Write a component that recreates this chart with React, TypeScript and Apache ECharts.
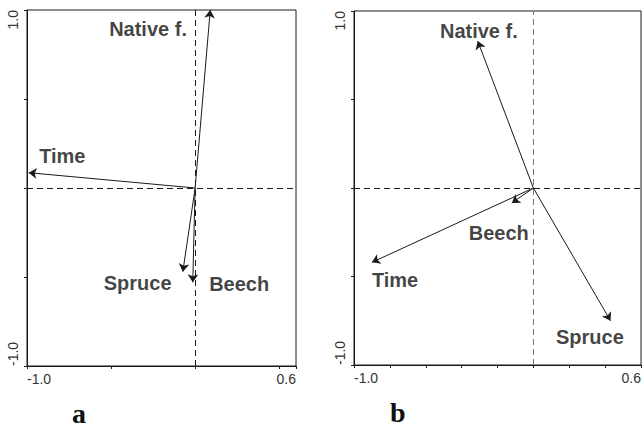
import React, { useEffect, useRef } from "react";
import * as echarts from "echarts";

// Variable names (same order in both panels)
const varNames = ["Native f.", "Time", "Spruce", "Beech"];

// Panel a: arrow tips (axis 1, axis 2)
const aX = [0.09, -0.99, -0.073, -0.014];
const aY = [1.0, 0.086, -0.47, -0.53];
// Panel a: label anchor points (data units)
const aLabelX = [-0.28, -0.79, -0.342, 0.262];
const aLabelY = [0.893, 0.18, -0.534, -0.539];

// Panel b: arrow tips
const bX = [-0.31, -0.9, 0.43, -0.12];
const bY = [0.83, -0.42, -0.75, -0.085];
// Panel b: label anchor points
const bLabelX = [-0.304, -0.771, 0.315, -0.193];
const bLabelY = [0.887, -0.52, -0.842, -0.254];

// Axis ranges and tick steps
const xRange = [-1.0, 0.6];
const yRange = [-1.0, 1.0];
const xStepA = 0.5;
const xStepB = 0.2;
const yStep = 0.5;
const panelLetters = ["a", "b"];

const INK = "#1a1a1a";

function fmtX(v: number) {
  if (Math.abs(v - xRange[0]) < 1e-9) return xRange[0].toFixed(1);
  if (Math.abs(v - xRange[1]) < 1e-9) return xRange[1].toFixed(1);
  return "";
}
function fmtY(v: number) {
  if (Math.abs(v - yRange[0]) < 1e-9) return yRange[0].toFixed(1);
  if (Math.abs(v - yRange[1]) < 1e-9) return yRange[1].toFixed(1);
  return "";
}

function makeX(gridIndex: number, step: number) {
  return {
    type: "value",
    gridIndex,
    min: xRange[0],
    max: xRange[1],
    interval: step,
    splitLine: { show: false },
    axisLine: { show: true, onZero: false, lineStyle: { color: INK, width: 1 } },
    axisTick: { show: true, inside: false, length: 3, lineStyle: { color: INK } },
    axisLabel: {
      show: true,
      formatter: fmtX,
      showMinLabel: true,
      showMaxLabel: true,
      alignMinLabel: "left",
      alignMaxLabel: "right",
      margin: 6,
      color: "#333",
      fontFamily: "'Liberation Sans', Arial, sans-serif",
      fontSize: 14,
    },
  };
}

function makeY(gridIndex: number) {
  return {
    type: "value",
    gridIndex,
    min: yRange[0],
    max: yRange[1],
    interval: yStep,
    splitLine: { show: false },
    axisLine: { show: true, onZero: false, lineStyle: { color: INK, width: 1 } },
    axisTick: { show: true, inside: false, length: 3, lineStyle: { color: INK } },
    axisLabel: {
      show: true,
      formatter: fmtY,
      rotate: 90,
      showMinLabel: true,
      showMaxLabel: true,
      alignMinLabel: "left",
      alignMaxLabel: "right",
      margin: 7,
      color: "#333",
      fontFamily: "'Liberation Sans', Arial, sans-serif",
      fontSize: 14,
    },
  };
}

function crossSeries(idx: number, vColor: string) {
  return {
    type: "lines",
    coordinateSystem: "cartesian2d",
    xAxisIndex: idx,
    yAxisIndex: idx,
    clip: false,
    silent: true,
    symbol: ["none", "none"],
    lineStyle: { color: INK, width: 1, type: [6, 4], opacity: 1 },
    data: [
      { coords: [[xRange[0], 0], [xRange[1], 0]] },
      { coords: [[0, yRange[0]], [0, yRange[1]]], lineStyle: { color: vColor } },
    ],
  };
}

function arrowSeries(idx: number, xs: number[], ys: number[]) {
  return {
    type: "lines",
    coordinateSystem: "cartesian2d",
    xAxisIndex: idx,
    yAxisIndex: idx,
    clip: false,
    silent: true,
    symbol: ["none", "arrow"],
    symbolSize: [5, 8],
    lineStyle: { color: INK, width: 1, opacity: 1 },
    itemStyle: { color: INK },
    data: xs.map((x, i) => ({ name: varNames[i], coords: [[0, 0], [x, ys[i]]] })),
  };
}

function labelSeries(idx: number, xs: number[], ys: number[]) {
  return {
    type: "scatter",
    xAxisIndex: idx,
    yAxisIndex: idx,
    clip: false,
    silent: true,
    symbolSize: 2,
    itemStyle: { color: "rgba(0,0,0,0)" },
    label: {
      show: true,
      position: "inside",
      formatter: (p: any) => p.name,
      color: "#111",
      fontFamily: "'Liberation Sans', Arial, sans-serif",
      fontWeight: "bold",
      fontSize: 20,
      align: "center",
      verticalAlign: "middle",
    },
    data: xs.map((x, i) => ({ name: varNames[i], value: [x, ys[i]] })),
  };
}

export default function App() {
  const ref = useRef<HTMLDivElement>(null);
  useEffect(() => {
    if (!ref.current) return;
    const chart = echarts.init(ref.current, undefined, { renderer: "svg" });
    chart.setOption({
      animation: false,
      backgroundColor: "#ffffff",
      grid: [
        { left: 27, top: 10, width: 269, height: 356, show: true, borderColor: INK, borderWidth: 1, backgroundColor: "transparent" },
        { left: 354, top: 11, width: 289, height: 354, show: true, borderColor: INK, borderWidth: 1, backgroundColor: "transparent" },
      ],
      xAxis: [makeX(0, xStepA), makeX(1, xStepB)],
      yAxis: [makeY(0), makeY(1)],
      series: [
        crossSeries(0, INK),
        arrowSeries(0, aX, aY),
        labelSeries(0, aLabelX, aLabelY),
        crossSeries(1, "#777"),
        arrowSeries(1, bX, bY),
        labelSeries(1, bLabelX, bLabelY),
      ],
      graphic: [
        {
          type: "text",
          left: 72,
          top: 399,
          style: {
            text: panelLetters[0],
            font: "bold 28px 'Liberation Serif', 'Times New Roman', serif",
            fill: "#111",
          },
        },
        {
          type: "text",
          left: 390,
          top: 398,
          style: {
            text: panelLetters[1],
            font: "bold 28px 'Liberation Serif', 'Times New Roman', serif",
            fill: "#111",
          },
        },
      ],
    });
    return () => chart.dispose();
  }, []);
  return (
    <div
      ref={ref}
      style={{ position: "fixed", left: 0, top: 0, width: 644, height: 428, background: "#fff" }}
    />
  );
}
